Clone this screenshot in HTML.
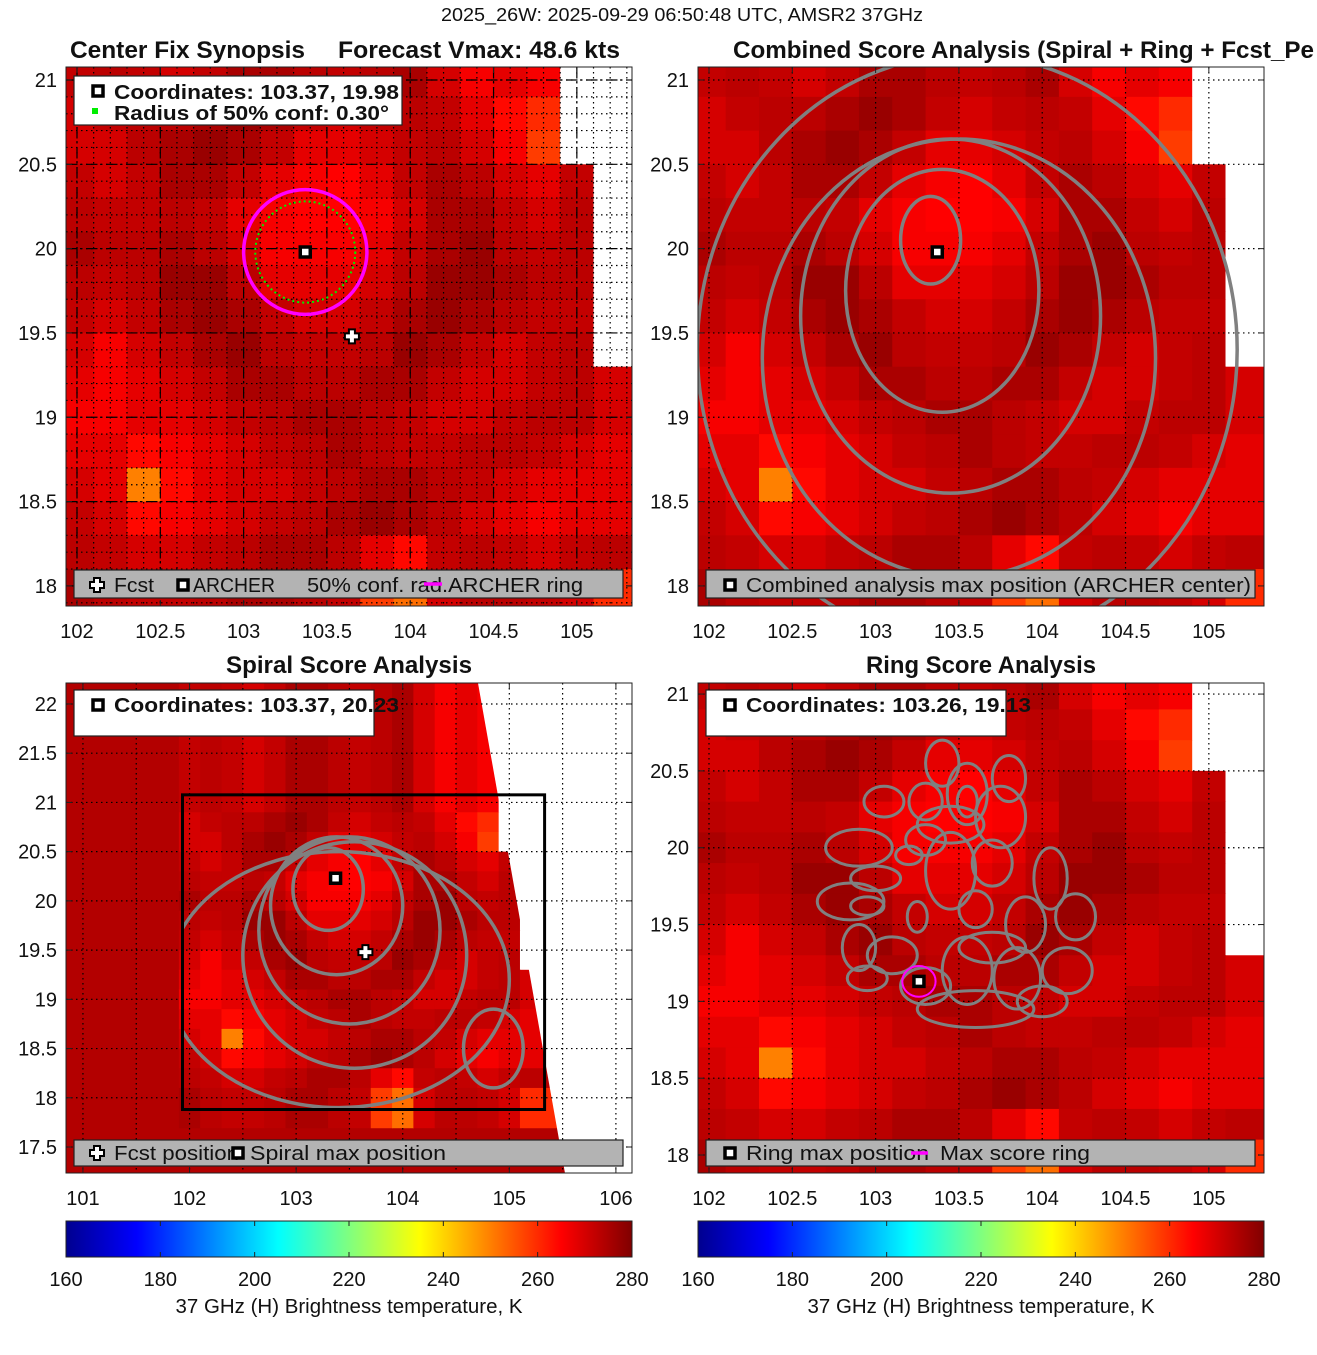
<!DOCTYPE html>
<html><head><meta charset="utf-8"><style>
body{margin:0;background:#fff}
svg text{font-family:"Liberation Sans Narrow","Liberation Sans",sans-serif;fill:#111}
.t{font-size:20px}.b{font-size:24px;font-weight:bold}
</style></head><body>
<svg id="fig" width="1317" height="1350" viewBox="0 0 1317 1350" xmlns="http://www.w3.org/2000/svg">
<defs>
<linearGradient id="jetg" x1="0" x2="1" y1="0" y2="0">
<stop offset="0" stop-color="#00008f"/><stop offset="0.125" stop-color="#0000ff"/><stop offset="0.375" stop-color="#00ffff"/><stop offset="0.625" stop-color="#ffff00"/><stop offset="0.875" stop-color="#ff0000"/><stop offset="1" stop-color="#800000"/>
</linearGradient>
<clipPath id="cTL"><rect x="66" y="67" width="566" height="539"/></clipPath>
<clipPath id="cTR"><rect x="698" y="67" width="566" height="539"/></clipPath>
<clipPath id="cBL"><rect x="66" y="683" width="566" height="490"/></clipPath>
<clipPath id="cBR"><rect x="698" y="683" width="566" height="490"/></clipPath>
<clipPath id="cBox"><rect x="182" y="795" width="362" height="314"/></clipPath>
</defs>
<text x="682" y="21" text-anchor="middle" style="font-size:18px" textLength="482" lengthAdjust="spacingAndGlyphs">2025_26W: 2025-09-29 06:50:48 UTC, AMSR2 37GHz</text>
<g id="root"></g>
</svg>
<script>
// ---- data ----
const tempLons=[102.0,102.2,102.4,102.6,102.8,103.0,103.2,103.4,103.6,103.8,104.0,104.2,104.4,104.6,104.8,105.0,105.2];
const tempLats=[21.0,20.8,20.6,20.4,20.2,20.0,19.8,19.6,19.4,19.2,19.0,18.8,18.6,18.4,18.2,18.0];
const tempRows=[
[272,273,272,270,272,275,275,273,272,273,275,270,266,268,266,0,0],
[270,272,273,273,275,277,275,272,270,272,273,272,268,264,260,0,0],
[270,270,273,275,277,275,272,268,268,270,272,273,270,266,258,0,0],
[272,270,272,275,275,272,268,266,265,268,272,275,273,270,268,272,0],
[273,272,272,273,272,268,266,265,265,266,270,275,275,272,270,273,0],
[275,273,273,275,273,270,266,266,266,268,272,275,277,273,272,273,0],
[273,272,273,277,277,273,268,268,268,270,273,277,277,275,273,273,0],
[272,270,272,275,277,275,272,270,270,272,275,277,275,273,272,272,0],
[270,266,270,272,275,277,273,272,272,273,277,275,272,270,272,273,0],
[268,266,268,270,272,275,275,273,273,275,275,272,270,270,272,273,270],
[266,266,268,268,270,272,273,275,275,273,272,270,270,272,273,273,270],
[268,268,264,266,268,270,272,273,275,273,272,272,273,273,272,270,268],
[270,268,250,264,268,270,270,272,273,275,275,273,272,270,268,268,268],
[272,270,264,266,268,270,272,273,275,277,275,273,270,268,266,268,268],
[273,272,270,270,272,273,275,275,273,268,264,272,273,272,270,272,273],
[275,273,272,272,273,275,275,273,272,258,252,270,273,273,272,270,260]];
const cbTicks=[160,180,200,220,240,260,280];
const ticksX1=[102,102.5,103,103.5,104,104.5,105];
const ticksY1=[21,20.5,20,19.5,19,18.5,18];
const ticksXBL=[101,102,103,104,105,106];
const ticksYBL=[22,21.5,21,20.5,20,19.5,19,18.5,18,17.5];
const archerTL=[103.37,19.98];
const fcst=[103.65,19.48];
const spiralMax=[103.37,20.23];
const ringMax=[103.26,19.13];
const conf50=0.30, archerRing=0.37;
// combined-score contours: [lonC, latC, rLon, rLat]
const combRings=[[103.33,20.05,0.18,0.26],[103.4,19.75,0.58,0.72],[103.45,19.6,0.9,1.05],[103.5,19.35,1.18,1.3],[103.55,19.4,1.62,1.75]];
// spiral contours: [lonC, latC, rLon, rLat]
const spiralRings=[[103.3,20.12,0.33,0.42],[103.38,19.95,0.62,0.7],[103.5,19.7,0.85,0.95],[103.55,19.45,1.05,1.15],[103.4,19.2,1.6,1.3],[104.85,18.5,0.28,0.4]];
// ring-score contour blobs: [lon, lat, rLon, rLat]
const ringBlobs=[[103.4,20.55,0.1,0.15],[103.55,20.35,0.12,0.2],[103.55,20.3,0.06,0.1],[103.3,20.3,0.1,0.12],[103.05,20.3,0.12,0.1],[103.75,20.2,0.15,0.2],[102.9,20.0,0.2,0.12],[103.2,19.95,0.08,0.06],[103.45,19.85,0.15,0.25],[103.7,19.9,0.12,0.15],[104.05,19.8,0.1,0.2],[102.85,19.65,0.2,0.12],[102.95,19.62,0.1,0.06],[103.25,19.55,0.06,0.1],[103.6,19.6,0.1,0.12],[103.9,19.5,0.12,0.18],[104.2,19.55,0.12,0.15],[103.1,19.3,0.15,0.12],[103.55,19.2,0.15,0.22],[103.85,19.15,0.14,0.2],[104.15,19.2,0.15,0.15],[103.3,19.1,0.15,0.12],[102.95,19.15,0.12,0.08],[103.6,18.95,0.35,0.12],[103.3,20.05,0.12,0.1],[103.0,19.8,0.15,0.08],[103.7,19.35,0.2,0.1],[104.0,19.0,0.15,0.1],[102.9,19.35,0.1,0.15],[103.45,20.15,0.2,0.12],[103.8,20.45,0.1,0.15]];
const ringMaxR=0.1;

// ---- helpers ----
const NS='http://www.w3.org/2000/svg';
const root=document.getElementById('root');
function el(tag,attrs,parent){const e=document.createElementNS(NS,tag);for(const k in attrs)e.setAttribute(k,attrs[k]);(parent||root).appendChild(e);return e;}
function jet(T){const t=Math.max(0,Math.min(1,(T-160)/120));const c=v=>Math.round(255*Math.max(0,Math.min(1,v)));return `rgb(${c(1.5-Math.abs(4*t-3))},${c(1.5-Math.abs(4*t-2))},${c(1.5-Math.abs(4*t-1))})`;}
function mk(px,py,pw,ph,lon0,lon1,lat0,lat1){return {px,py,pw,ph,x:l=>px+(l-lon0)/(lon1-lon0)*pw,y:a=>py+(lat0-a)/(lat0-lat1)*ph};}
const TL=mk(66,67,566,539,101.934,105.331,21.077,17.881);
const TR=mk(698,67,566,539,101.934,105.331,21.077,17.881);
const BL=mk(66,683,566,490,100.841,106.151,22.213,17.236);
const BR=mk(698,683,566,490,101.934,105.331,21.072,17.883);

function heat(P,clip,name,bgT){
  const g=el('g',{'clip-path':`url(#${clip})`});
  
  
  const bg=el('rect',{x:P.px,y:P.py,width:P.pw,height:P.ph,fill:jet(bgT)},g);
  
  
  tempRows.forEach((row,j)=>row.forEach((v,i)=>{
    const lon=tempLons[i],lat=tempLats[j];
    const x0=P.x(lon-0.1),x1=P.x(lon+0.1),y0=P.y(lat+0.1),y1=P.y(lat-0.1);
    let ex=j===0?Math.max(0,y0-P.py):0, eb=j===tempRows.length-1?20:0, er=i===row.length-1?20:0;
    const r=el('rect',{x:x0,y:y0-ex,width:x1-x0+0.6+er,height:y1-y0+0.6+ex+eb,fill:v?jet(v):'#fff'},g);
    
    
  }));
  return g;
}
function grid(P,clip,minor){
  const g=el('g',{'clip-path':`url(#${clip})`});
  
  
  if(minor){for(let l=101.9;l<105.4;l+=0.1){const x=P.x(l);el('line',{x1:x,x2:x,y1:P.py,y2:P.py+P.ph,stroke:'#000','stroke-width':1.2,'stroke-dasharray':'1.5 3.5'},g);}
    for(let a=17.9;a<21.1;a+=0.1){const y=P.y(a);el('line',{x1:P.px,x2:P.px+P.pw,y1:y,y2:y,stroke:'#000','stroke-width':1.2,'stroke-dasharray':'1.5 3.5'},g);}}
  const da=minor?'10 4 2 4':'1.5 3.5';
  for(let l=101;l<=106;l+=0.5){const x=P.x(l);el('line',{x1:x,x2:x,y1:P.py,y2:P.py+P.ph,stroke:'#000','stroke-width':1.2,'stroke-dasharray':da},g);}
  for(let a=17.5;a<=22;a+=0.5){const y=P.y(a);el('line',{x1:P.px,x2:P.px+P.pw,y1:y,y2:y,stroke:'#000','stroke-width':1.2,'stroke-dasharray':da},g);}
}
function axes(P,xt,yt){
  const g=el('g',{});
  
  
  el('rect',{x:P.px,y:P.py,width:P.pw,height:P.ph,fill:'none',stroke:'#222','stroke-width':1},g);
  xt.forEach(v=>{const x=P.x(v);el('line',{x1:x,x2:x,y1:P.py+P.ph,y2:P.py+P.ph-6,stroke:'#222'},g);el('line',{x1:x,x2:x,y1:P.py,y2:P.py+6,stroke:'#222'},g);
    const t=el('text',{x:x,y:P.py+P.ph+32,'text-anchor':'middle',class:'t'},g);t.textContent=String(v);
    
    });
  yt.forEach(v=>{const y=P.y(v);el('line',{x1:P.px,x2:P.px+6,y1:y,y2:y,stroke:'#222'},g);el('line',{x1:P.px+P.pw,x2:P.px+P.pw-6,y1:y,y2:y,stroke:'#222'},g);
    const t=el('text',{x:P.px-9,y:y+7,'text-anchor':'end',class:'t'},g);t.textContent=String(v);
    
    });
}
function ellipses(P,clip,list,name,w){
  const g=el('g',{'clip-path':`url(#${clip})`});
  
  
  list.forEach(c=>{const cx=P.x(c[0]),cy=P.y(c[1]);const e=el('ellipse',{cx,cy,rx:Math.abs(P.x(c[0]+c[2])-cx),ry:Math.abs(P.y(c[1]+c[3])-cy),fill:'none',stroke:'#808080','stroke-width':w},g);
    
    });
}
function sq(x,y,name){const r=el('rect',{x:x-5,y:y-5,width:10,height:10,fill:'#fff',stroke:'#000','stroke-width':3.5});
  
  }
function plus(x,y,name){const p=el('path',{d:`M${x-3} ${y-7}h6v4h4v6h-4v4h-6v-4h-4v-6h4z`,fill:'#fff',stroke:'#000','stroke-width':2});
  
  }
function txt(x,y,s,cls,name,len,anchor){const t=el('text',{x,y,class:cls});if(len){t.setAttribute('textLength',len);t.setAttribute('lengthAdjust','spacingAndGlyphs');}if(anchor)t.setAttribute('text-anchor',anchor);t.textContent=s;
  
  return t;}
function box(x,y,w,h,fill,name){const r=el('rect',{x,y,width:w,height:h,fill,stroke:'#222','stroke-width':1.2});
  
  }

// ---- TL ----
heat(TL,'cTL','heatmap-synopsis',270);
grid(TL,'cTL',true);
{const cx=TL.x(archerTL[0]),cy=TL.y(archerTL[1]);
 const m=el('ellipse',{cx,cy,rx:TL.x(archerTL[0]+archerRing)-cx,ry:TL.y(archerTL[1]-archerRing)-cy,fill:'none',stroke:'#ff00ff','stroke-width':3.5});
 
 
 const c=el('ellipse',{cx,cy,rx:TL.x(archerTL[0]+conf50)-cx,ry:TL.y(archerTL[1]-conf50)-cy,fill:'none',stroke:'#00ee00','stroke-width':2,'stroke-dasharray':'2 3'});
 
 
 sq(cx,cy,'archer-center-marker');}
plus(TL.x(fcst[0]),TL.y(fcst[1]),'forecast-marker');
axes(TL,ticksX1,ticksY1);
box(74,76,328,49,'#fff','coordinates-legend');
sq(98,91,'legend-square-icon');
el('rect',{x:92,y:108,width:6,height:6,fill:'#00ee00'});
txt(114,99,'Coordinates: 103.37, 19.98','t','coordinates-text',285).style.fontWeight='bold';
txt(114,120,'Radius of 50% conf: 0.30°','t','radius-text',275).style.fontWeight='bold';
box(74,570,549,28,'#b3b3b3','synopsis-legend');
plus(97,585,'legend-fcst-icon');txt(114,592,'Fcst','t','legend-fcst',40);
sq(183,585,'legend-archer-icon');txt(193,592,'ARCHER','t','legend-archer',82);
txt(307,592,'50% conf. rad.ARCHER ring','t','legend-conf-ring',276);
el('line',{x1:424,x2:442,y1:584,y2:584,stroke:'#ff00ff','stroke-width':3.5});
txt(70,58,'Center Fix Synopsis','b','synopsis-title',235);
txt(338,58,'Forecast Vmax: 48.6 kts','b','vmax-title',282);

// ---- TR ----
heat(TR,'cTR','heatmap-combined',270);
grid(TR,'cTR',false);
ellipses(TR,'cTR',combRings,'combined-contours',3.5);
sq(TR.x(archerTL[0]),TR.y(archerTL[1]),'combined-max-marker');
axes(TR,ticksX1,ticksY1);
box(706,570,549,28,'#b3b3b3','combined-legend');
sq(730,585,'legend-combined-icon');txt(746,592,'Combined analysis max position (ARCHER center)','t','legend-combined',505);
txt(733,58,'Combined Score Analysis (Spiral + Ring + Fcst_Pe','b','combined-title',581);

// ---- BL ----
heat(BL,'cBL','heatmap-spiral',274);
{const p=el('polygon',{points:`${BL.x(104.706)},683 632,683 632,1173 ${BL.x(105.522)},1173`,fill:'#fff'});
 
 }
grid(BL,'cBL',false);
ellipses(BL,'cBox',spiralRings,'spiral-contours',3.5);
{const b=el('rect',{x:BL.x(101.934),y:BL.y(21.077),width:BL.x(105.331)-BL.x(101.934),height:BL.y(17.881)-BL.y(21.077),fill:'none',stroke:'#000','stroke-width':3});
 
 }
sq(BL.x(spiralMax[0]),BL.y(spiralMax[1]),'spiral-max-marker');
plus(BL.x(fcst[0]),BL.y(fcst[1]),'spiral-fcst-marker');
axes(BL,ticksXBL,ticksYBL);
box(74,690,300,46,'#fff','spiral-coords-legend');
sq(98,705,'legend-square-icon');
txt(114,712,'Coordinates: 103.37, 20.23','t','spiral-coords-text',285).style.fontWeight='bold';
box(74,1140,549,26,'#b3b3b3','spiral-legend');
plus(97,1153,'legend-fcst-icon');txt(114,1160,'Fcst position','t','legend-fcst-position',125);
sq(238,1153,'legend-spiral-icon');txt(250,1160,'Spiral max position','t','legend-spiral-max',196);
txt(349,673,'Spiral Score Analysis','b','spiral-title',246,'middle');

// ---- BR ----
heat(BR,'cBR','heatmap-ring',270);
grid(BR,'cBR',false);
ellipses(BR,'cBR',ringBlobs,'ring-contours',3);
{const cx=BR.x(ringMax[0]),cy=BR.y(ringMax[1]);
 const m=el('ellipse',{cx,cy,rx:BR.x(ringMax[0]+ringMaxR)-cx,ry:BR.y(ringMax[1]-ringMaxR)-cy,fill:'none',stroke:'#ff00ff','stroke-width':2});
 
 
 sq(cx,cy,'ring-max-marker');}
axes(BR,ticksX1,ticksY1);
box(706,690,300,46,'#fff','ring-coords-legend');
sq(730,705,'legend-square-icon');
txt(746,712,'Coordinates: 103.26, 19.13','t','ring-coords-text',285).style.fontWeight='bold';
box(706,1140,549,26,'#b3b3b3','ring-legend');
sq(730,1153,'legend-ring-icon');txt(746,1160,'Ring max position','t','legend-ring-max',183);
el('line',{x1:911,x2:928,y1:1153,y2:1153,stroke:'#ff00ff','stroke-width':3.5});
txt(940,1160,'Max score ring','t','legend-max-ring',150);
txt(981,673,'Ring Score Analysis','b','ring-title',230,'middle');

// ---- colorbars ----
[66,698].forEach((x0,k)=>{
  const r=el('rect',{x:x0,y:1221,width:566,height:36,fill:'url(#jetg)',stroke:'#222','stroke-width':1});
  
  
  cbTicks.forEach(v=>{const x=x0+(v-160)/120*566;
    el('line',{x1:x,x2:x,y1:1257,y2:1252,stroke:'#222'});el('line',{x1:x,x2:x,y1:1221,y2:1226,stroke:'#222'});
    txt(x,1286,String(v),'t','colorbar-tick-label',null,'middle');});
  txt(x0+283,1313,'37 GHz (H) Brightness temperature, K','t','colorbar-label',347,'middle');
});
</script>
</body></html>
